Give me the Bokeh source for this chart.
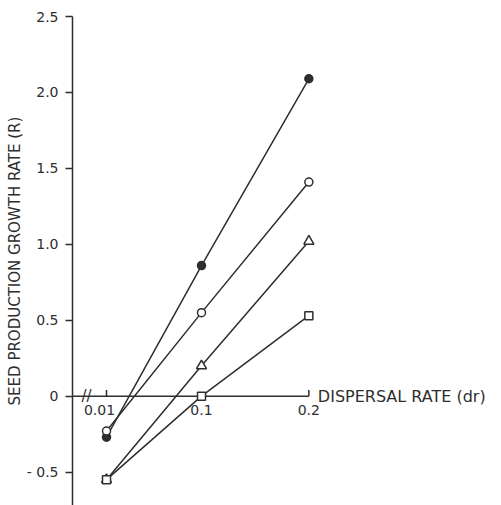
from bokeh.plotting import figure
from bokeh.models import FixedTicker, Label, Title
from bokeh.core.properties import value
from bokeh.embed import file_html
from bokeh.resources import INLINE

# ---- data ----
dr_labels = ["0.01", "0.1", "0.2"]          # dispersal rate categories
dr_pos = [0.0, 1.0, 2.13]                    # position on the broken x axis
filled_circle = [-0.27, 0.86, 2.09]
open_circle = [-0.23, 0.55, 1.41]
triangle = [-0.55, 0.20, 1.02]
square = [-0.55, 0.00, 0.53]
y_ticks = [-0.5, 0.0, 0.5, 1.0, 1.5, 2.0, 2.5]
y_tick_labels = ["- 0.5", "0", "0.5", "1.0", "1.5", "2.0", "2.5"]
x_title = "DISPERSAL RATE (dr)"
y_title = "SEED PRODUCTION GROWTH RATE (R)"

INK = "#2e2e2e"
FONT = "DejaVu Sans"

x_start, x_end = -0.358, 4.158
y_start, y_end = -0.72, 2.5

p = figure(width=501, height=505, x_range=(x_start, x_end), y_range=(y_start, y_end),
           output_backend="svg", toolbar_location=None, x_axis_location=None,
           min_border_left=72, min_border_right=0, min_border_top=16, min_border_bottom=0)
p.outline_line_color = None
p.grid.visible = False
p.background_fill_color = "white"
p.border_fill_color = "white"

# y axis
ya = p.yaxis[0]
ya.ticker = FixedTicker(ticks=y_ticks)
ya.major_label_overrides = {t: l for t, l in zip(y_ticks, y_tick_labels)}
ya.bounds = (y_start, y_ticks[-1])
ya.major_tick_out = 7
ya.major_tick_in = 0
ya.minor_tick_line_color = None
ya.axis_line_color = INK
ya.axis_line_width = 1.5
ya.major_tick_line_color = INK
ya.major_tick_line_width = 1.5
ya.major_label_text_font = FONT
ya.major_label_text_font_size = "14px"
ya.major_label_text_color = INK
ya.major_label_standoff = 7

# y title on the left, shifted up
p.add_layout(Title(text=y_title, align="center", offset=30, standoff=0,
                   text_font=FONT, text_font_size="15px", text_font_style="normal",
                   text_color=INK), "left")

# x axis drawn at y = 0
p.segment(x0=[x_start], y0=[0], x1=[dr_pos[-1]], y1=[0], line_color=INK, line_width=1.5)
p.segment(x0=[dr_pos[0], dr_pos[-1]], y0=[0, 0], x1=[dr_pos[0], dr_pos[-1]],
          y1=[0.04, 0.04], line_color=INK, line_width=1.5)
p.text(x=dr_pos, y=[0] * 3, text=dr_labels, x_offset=[-7, 0, 0], y_offset=9,
       text_align="center", text_baseline="top", text_font=value(FONT),
       text_font_size="14px", text_color=INK)
p.text(x=[x_start], y=[0], text=["//"], x_offset=14, text_align="center",
       text_baseline="middle", text_font=value(FONT), text_font_size="15px", text_color=INK)
p.add_layout(Label(x=dr_pos[-1], y=0, x_offset=9, text=x_title, text_baseline="middle",
                   text_font=FONT, text_font_size="16px", text_color=INK))

# series
series = [
    (filled_circle, "circle", 8, INK),
    (open_circle, "circle", 8, "white"),
    (triangle, "triangle", 10, "white"),
    (square, "square", 8, "white"),
]
for ys, _, _, _ in series:
    p.line(dr_pos, ys, line_color=INK, line_width=1.5)
for ys, mk, sz, fc in series:
    p.scatter(dr_pos, ys, marker=mk, size=sz, fill_color=fc, line_color=INK, line_width=1.5)

open("out.html", "w").write(file_html(p, INLINE))
